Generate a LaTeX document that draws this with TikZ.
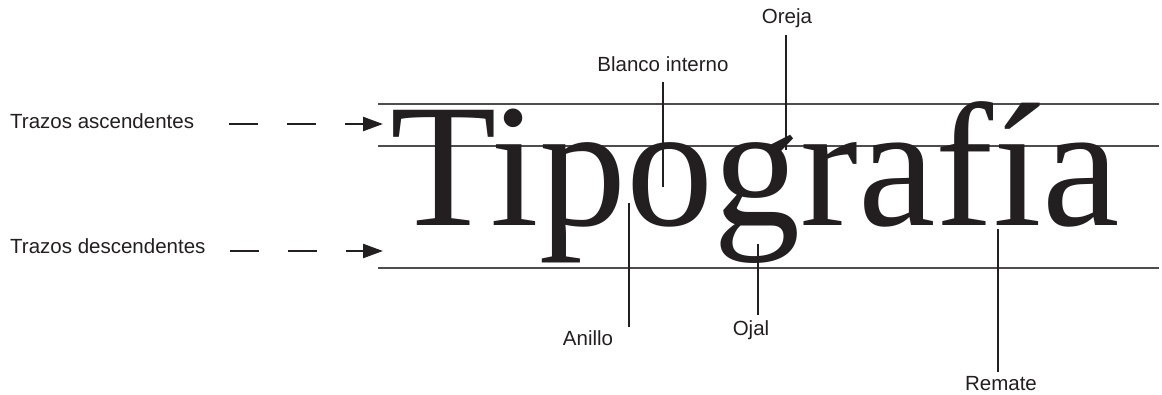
\documentclass[tikz,border=0pt]{standalone}
\usepackage{fontspec}
\setmainfont{Liberation Serif}
\setsansfont{Liberation Sans}
\usetikzlibrary{arrows.meta,positioning}
\definecolor{ink}{HTML}{231F20}
\tikzset{
  partlabel/.style={font=\sffamily\fontsize{20.5}{24}\selectfont,text=ink,inner sep=0pt,
    text height=15pt,text depth=4pt},
  wordbox/.style={font=\fontsize{176}{176}\selectfont,text=ink,inner sep=0pt,
    xscale=0.99,transform shape},
  guideline/.style={draw=ink!80,line width=1.3pt},
  pointerline/.style={draw=ink,line width=2.2pt},
  dasharrow/.style={draw=ink,line width=2.4pt,dash pattern=on 29pt off 29pt,
    -{Triangle[length=20pt,width=14pt]}}
}

\begin{document}
\begin{tikzpicture}[x=1pt,y=-1pt]
  \useasboundingbox (0,0) rectangle (1162,394);
  % reference lines
  \coordinate (ascleft) at (378,104);
  \coordinate (xleft) at (378,146);
  \coordinate (descleft) at (378,268);
  \draw[guideline] (ascleft) -- (ascleft -| 1159,0);
  \draw[guideline] (xleft) -- (xleft -| 1159,0);
  \draw[guideline] (descleft) -- (descleft -| 1159,0);
  % the word
  \node[wordbox,anchor=base west] (word) at (390,225) {Tipografía};
  % left side labels
  \node[partlabel,anchor=base west] (asc) at (10,128) {Trazos ascendentes};
  \node[partlabel,anchor=base west] (desc) at (10,253) {Trazos descendentes};
  \coordinate (asctip) at (383,124);
  \coordinate (desctip) at (383,251);
  \draw[dasharrow] (asctip -| 229,0) -- (asctip);
  \draw[dasharrow] (desctip -| 230,0) -- (desctip);
  % pointers
  \coordinate (blancoend) at (663,187);
  \coordinate (orejaend) at (786,150);
  \coordinate (anilloend) at (629,203);
  \coordinate (ojalend) at (758,244);
  \coordinate (remateend) at (998,229);
  \node[partlabel,anchor=base] (blanco) at (663,71) {Blanco interno};
  \node[partlabel,anchor=base] (oreja) at (787,23) {Oreja};
  \node[partlabel,anchor=base] (anillo) at (588,345) {Anillo};
  \node[partlabel,anchor=base] (ojal) at (751,335) {Ojal};
  \node[partlabel,anchor=base] (remate) at (1001,390) {Remate};
  \draw[pointerline] (blancoend) -- (blancoend |- 0,82);
  \draw[pointerline] (orejaend) -- (orejaend |- 0,35);
  \draw[pointerline] (anilloend) -- (anilloend |- 0,327);
  \draw[pointerline] (ojalend) -- (ojalend |- 0,315);
  \draw[pointerline] (remateend) -- (remateend |- 0,372);
\end{tikzpicture}
\end{document}
